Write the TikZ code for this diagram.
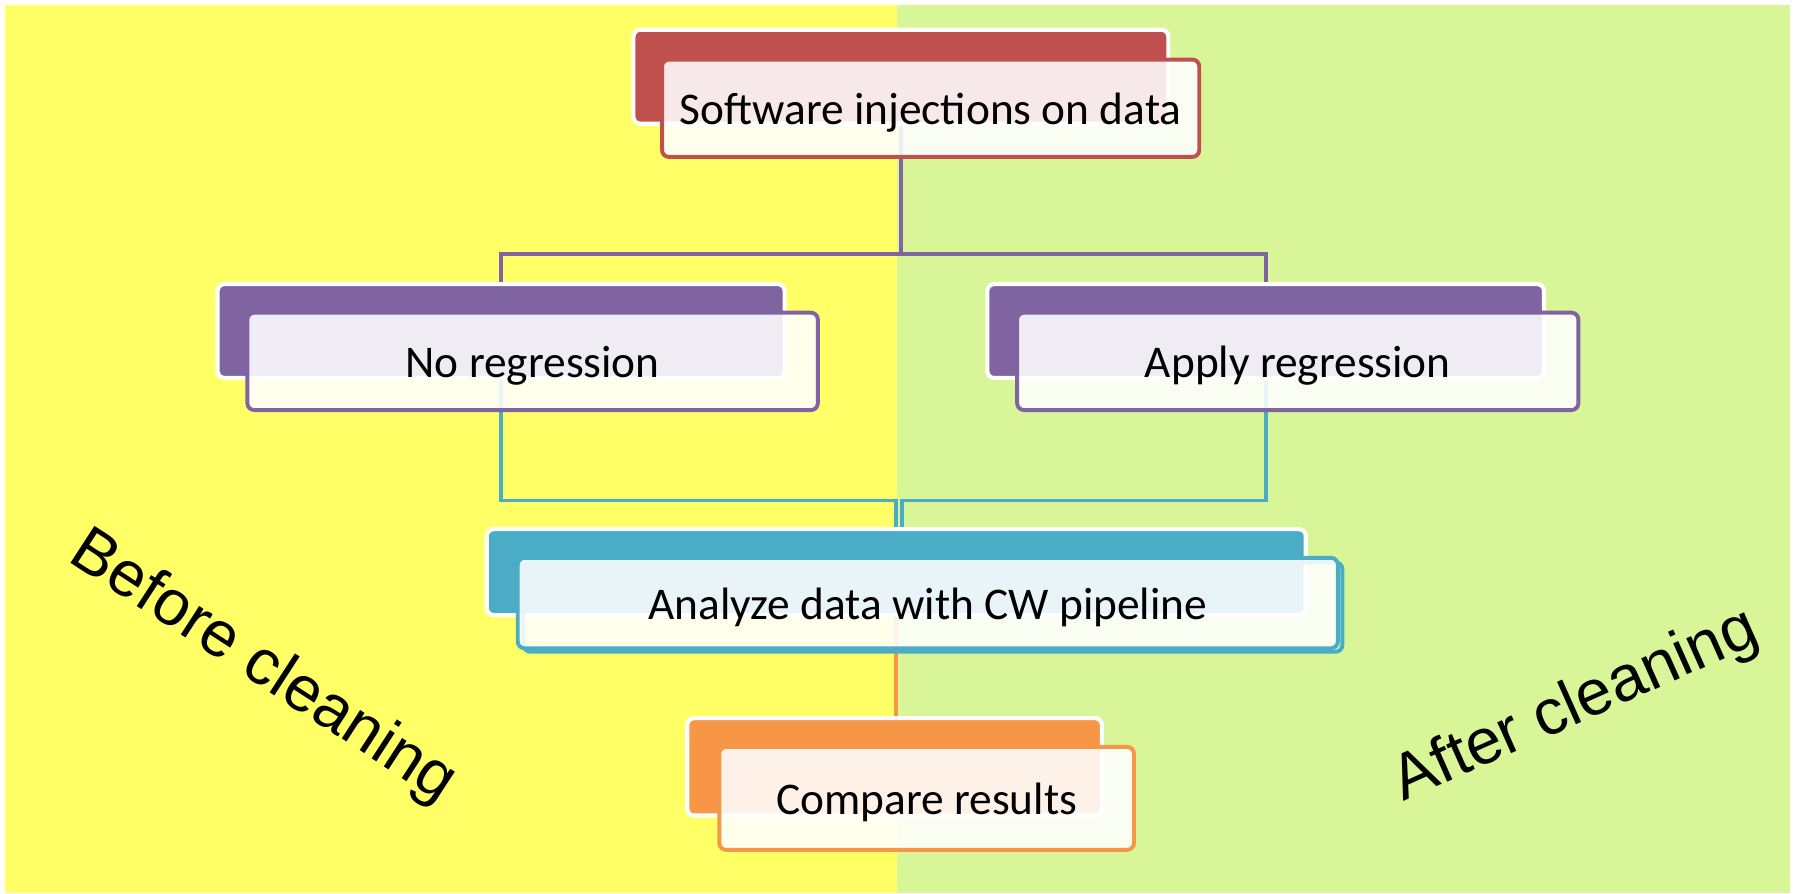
\documentclass[tikz,border=0pt]{standalone}
\usepackage{fontspec}
\setmainfont{Carlito}
\newfontfamily\arialfont{Liberation Sans}
\usetikzlibrary{positioning}
\definecolor{before bg}{HTML}{FFFF66}
\definecolor{after bg}{HTML}{D8F598}
\definecolor{box red}{HTML}{C0504D}
\definecolor{box purple}{HTML}{8064A2}
\definecolor{box teal}{HTML}{4BACC6}
\definecolor{box orange}{HTML}{F79646}
\tikzset{backbox/.style={fill=#1, draw=white, line width=1.8pt, rounded corners=3pt, inner sep=0pt},
    frontbox/.style={fill=white, fill opacity=0.88, text opacity=1, draw=#1, line width=1.7pt,
        rounded corners=3pt, inner sep=0pt, text height=18pt, text depth=4pt,
        font=\fontsize{19.8}{22}\selectfont},
    link/.style={draw=#1, line width=1.7pt},
    side label/.style={font=\arialfont\fontsize{28}{30}\selectfont, inner sep=0pt}}

\begin{document}
\begin{tikzpicture}[x=0.5pt,y=-0.5pt]
\useasboundingbox (0,0) rectangle (1568,780);
\fill[before bg] (4.4,4.4) rectangle (783,780);
\fill[after bg] (783,4.4) rectangle (1563,780);
% back tabs
\node[backbox=box red, minimum width=233.5pt, minimum height=41pt] (softb) at (786.5,67) {};
\node[backbox=box purple, minimum width=247.5pt, minimum height=41pt] (nregb) at (437.5,289) {};
\node[backbox=box purple, minimum width=243pt, minimum height=41pt] (aregb) at (1105,289) {};
\node[backbox=box teal, minimum width=357.5pt, minimum height=37.5pt] (cwb) at (782.5,499.5) {};
\node[backbox=box orange, minimum width=181pt, minimum height=42.5pt] (cmpb) at (781,669.5) {};
% links
\coordinate (split1) at (softb.south |- 0,222);
\coordinate (split2) at (cwb.north |- 0,437);
\draw[link=box purple] (softb.south) -- (split1);
\draw[link=box purple] (nregb.north) |- (split1) -| (aregb.north);
\draw[link=box teal] (nregb.south) |- (split2) -- (cwb.north);
\draw[link=box teal] (aregb.south) |- ([xshift=2.5pt]split2) -- ([xshift=2.5pt]cwb.north);
\draw[link=box orange] (cwb.south) -- (cwb.south |- cmpb.north);
% front cards
\draw[box teal, line width=1.7pt, rounded corners=3pt] (457,491) rectangle (1172,569);
\node[frontbox=box red, minimum width=234.5pt, minimum height=42.5pt] (soft) at (812.5,94.5) {Software injections on data};
\node[frontbox=box purple, minimum width=249pt, minimum height=42.5pt] (nreg) at (465,315.5) {No regression};
\node[frontbox=box purple, minimum width=245pt, minimum height=42.5pt] (areg) at (1133,315.5) {Apply regression};
\node[frontbox=box teal, minimum width=358pt, minimum height=39.5pt] (cw) at (810,526.5) {Analyze data with CW pipeline};
\node[frontbox=box orange, minimum width=181pt, minimum height=45pt] (cmp) at (809,697) {Compare results};
% side texts
\node[side label, rotate=-33] (before) at (229,583) {Before cleaning};
\node[side label, rotate=24] (after) at (1376,617) {After cleaning};
\end{tikzpicture}
\end{document}
